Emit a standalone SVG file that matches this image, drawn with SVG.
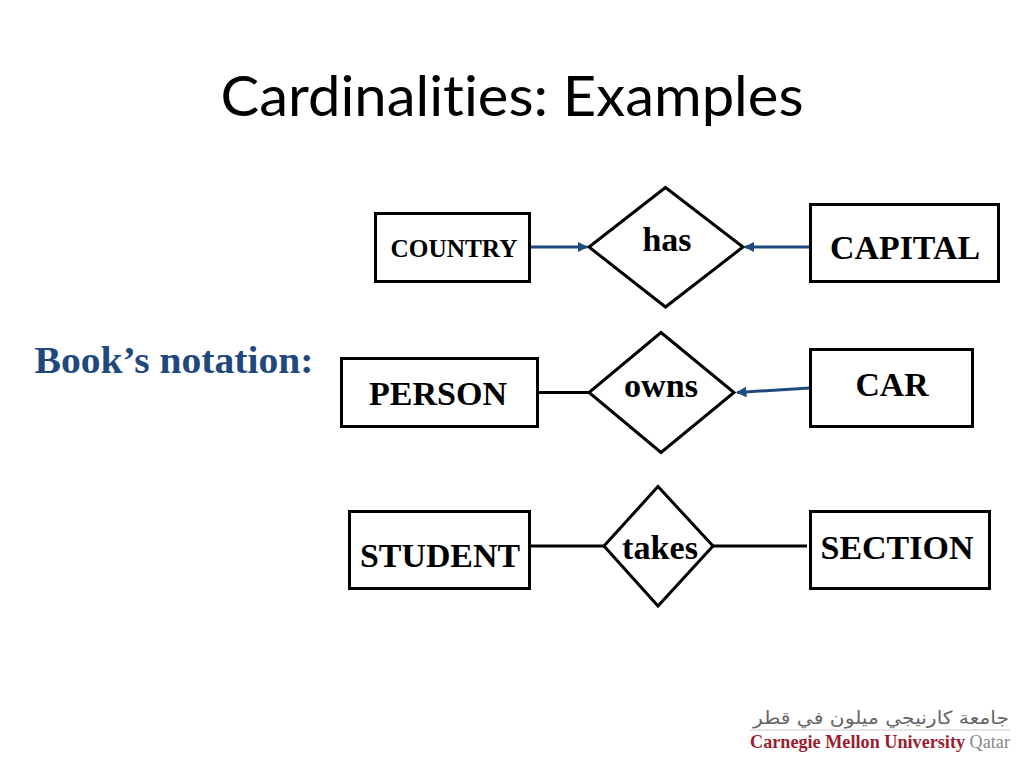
<svg xmlns="http://www.w3.org/2000/svg" width="1024" height="768" viewBox="0 0 1024 768">
<style>
.e{fill:#fff;stroke:#000;stroke-width:3}
.c{fill:none;stroke:#000;stroke-width:3}
.a{fill:none;stroke:#1f497d;stroke-width:3;marker-end:url(#ah)}
text{font-family:"Liberation Serif",serif;font-weight:bold;fill:#000;text-anchor:middle}
</style>
<defs><marker id="ah" viewBox="0 0 10 10" refX="9" refY="5" markerWidth="3.500" markerHeight="3.500" orient="auto"><path d="M0 0L10 5L0 10Z" fill="#1f497d"/></marker></defs>
<rect width="1024" height="768" fill="#fff"/>
<text id="title" x="512" y="116" style="font-family:Lato,sans-serif;font-weight:normal;font-size:56px;font-variant-ligatures:none" textLength="583" lengthAdjust="spacingAndGlyphs">Cardinalities: Examples</text>
<text id="notation" x="174" y="373" style="fill:#1f497d;font-size:37px" textLength="279" lengthAdjust="spacingAndGlyphs">Book’s notation:</text>
<g id="connectors">
<path class="a" d="M530 247H587"/>
<path class="a" d="M810 247H745"/>
<path class="c" d="M537 392.500H589"/>
<path class="a" d="M810 388L737 392.500"/>
<path class="c" d="M529 546H604"/>
<path class="c" d="M713 546H807"/>
</g>
<g id="country"><rect class="e" x="375.500" y="213.500" width="154" height="68"/><text x="454" y="257" font-size="25" textLength="127" lengthAdjust="spacingAndGlyphs">COUNTRY</text></g>
<g id="capital"><rect class="e" x="810.500" y="204.500" width="188" height="77"/><text x="905" y="259" font-size="33" textLength="150" lengthAdjust="spacingAndGlyphs">CAPITAL</text></g>
<g id="has"><path class="e" d="M665.500 187.500L743 247L665.500 307L589 247Z"/><text x="667" y="251" font-size="33" textLength="49" lengthAdjust="spacingAndGlyphs">has</text></g>
<g id="person"><rect class="e" x="341.500" y="358.500" width="196" height="68"/><text x="438" y="405" font-size="33" textLength="138" lengthAdjust="spacingAndGlyphs">PERSON</text></g>
<g id="owns"><path class="e" d="M661 332.500L734 392.500L661 452.500L589 392.500Z"/><text x="661" y="397" font-size="33" textLength="74" lengthAdjust="spacingAndGlyphs">owns</text></g>
<g id="car"><rect class="e" x="810.500" y="349.500" width="162" height="77"/><text x="892" y="396" font-size="33" textLength="73" lengthAdjust="spacingAndGlyphs">CAR</text></g>
<g id="student"><rect class="e" x="349.500" y="511.500" width="180" height="77"/><text x="440" y="567" font-size="33" textLength="160" lengthAdjust="spacingAndGlyphs">STUDENT</text></g>
<g id="takes"><path class="e" d="M658 486.500L713 546L658 606L604 546Z"/><text x="660" y="559" font-size="33" textLength="76" lengthAdjust="spacingAndGlyphs">takes</text></g>
<g id="section"><rect class="e" x="810.500" y="511.500" width="179" height="77"/><text x="897" y="559" font-size="33" textLength="153" lengthAdjust="spacingAndGlyphs">SECTION</text></g>
<g id="logo">
<text x="881" y="724" style="font-family:'DejaVu Sans',sans-serif;font-weight:normal;fill:#666;font-size:18px" textLength="256" lengthAdjust="spacingAndGlyphs">جامعة كارنيجي ميلون في قطر</text>
<path d="M750 730H1010" stroke="#ccc" stroke-width="1"/>
<text x="880" y="748" style="fill:#9b1c2e;font-size:18px" textLength="260" lengthAdjust="spacingAndGlyphs"><tspan>Carnegie Mellon University</tspan> <tspan style="fill:#888;font-weight:normal">Qatar</tspan></text>
</g>
</svg>
